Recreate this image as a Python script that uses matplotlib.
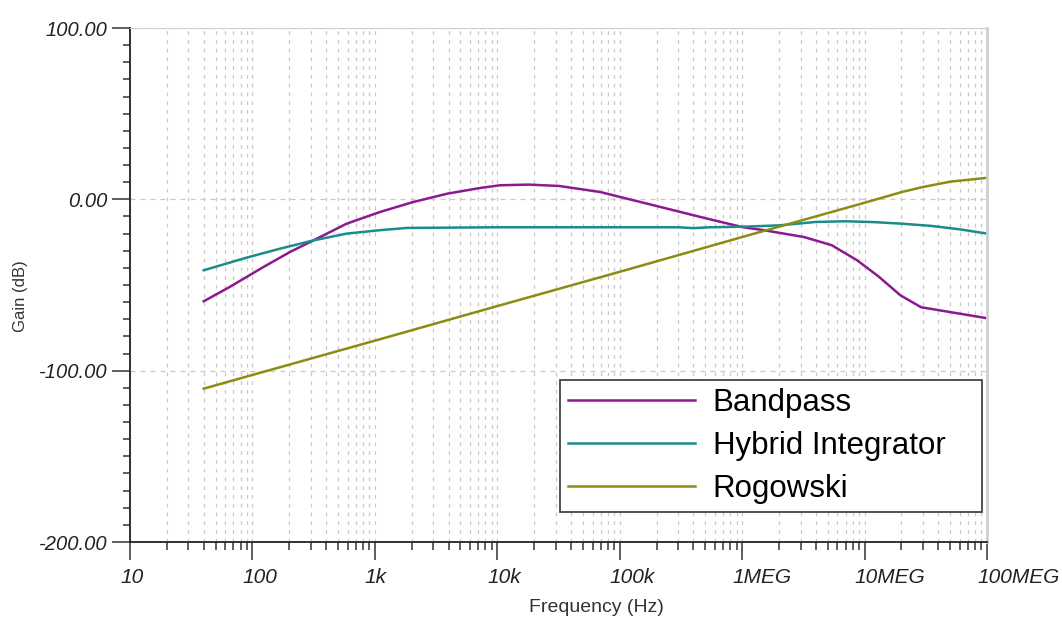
import numpy as np
import matplotlib
matplotlib.use("Agg")
import matplotlib.pyplot as plt
from matplotlib.ticker import FixedLocator, FixedFormatter, NullFormatter, MultipleLocator
from matplotlib.transforms import ScaledTranslation

plt.rcParams['font.family'] = ['Liberation Sans', 'DejaVu Sans']

# Frequencies (Hz) and gains (dB)
bp_freq = [40, 65, 123, 203, 335, 589, 1100, 2050, 3900, 7200, 10500, 18000,
           32000, 69000, 190000, 457000, 1000000, 1500000, 3200000, 5400000,
           8700000, 13000000, 19600000, 29000000, 50000000, 98000000]
bp_gain = [-59.5, -51.2, -39.5, -30.7, -23.0, -14.2, -7.4, -1.6, 3.3, 6.6, 8.2, 8.6,
           7.8, 4.3, -3.5, -10.3, -16.2, -18.0, -22.0, -26.8,
           -35.6, -45.0, -56.0, -63.0, -65.8, -69.3]

hy_freq = [40, 90, 168, 313, 589, 1100, 1830, 10000, 300000, 400000, 550000,
           1000000, 2000000, 4000000, 7000000, 12000000, 20000000, 35000000,
           60000000, 98000000]
hy_gain = [-41.4, -34.0, -28.8, -24.0, -20.0, -18.0, -16.7, -16.3, -16.3, -16.8, -16.3,
           -16.0, -15.2, -13.2, -12.8, -13.3, -14.2, -15.5,
           -17.5, -19.9]

rg_freq = [40, 100, 1000, 10000, 100000, 1000000, 10000000, 20000000,
           30000000, 50000000, 98000000]
rg_gain = [-110.5, -102.5, -82.5, -62.3, -42.3, -22.0, -2.0, 4.2,
           7.2, 10.3, 12.5]

series_names = ["Bandpass", "Hybrid Integrator", "Rogowski"]
series_colors = ["#8B1A90", "#1A8C8C", "#8C8C14"]

x_ticks = [10, 100, 1e3, 1e4, 1e5, 1e6, 1e7, 1e8]
x_labels = ["10", "100", "1k", "10k", "100k", "1MEG", "10MEG", "100MEG"]
y_ticks = [-200, -100, 0, 100]
y_labels = ["-200.00", "-100.00", "0.00", "100.00"]

fig = plt.figure(figsize=(10.62, 6.35), dpi=100)
ax = fig.add_axes([130/1062, 1-542/635, 857/1062, 514/635])

for fx, gy, name, col in zip([bp_freq, hy_freq, rg_freq], [bp_gain, hy_gain, rg_gain],
                             series_names, series_colors):
    ax.plot(fx, gy, color=col, lw=1.8, label=name)

ax.set_xscale('log')
ax.set_xlim(10, 1e8)
ax.set_ylim(-200, 100)

ax.xaxis.set_major_locator(FixedLocator(x_ticks))
ax.xaxis.set_major_formatter(FixedFormatter(x_labels))
minor_x = [m * d for d in x_ticks[:-1] for m in range(2, 10)]
ax.xaxis.set_minor_locator(FixedLocator(minor_x))
ax.xaxis.set_minor_formatter(NullFormatter())

ax.yaxis.set_major_locator(FixedLocator(y_ticks))
ax.yaxis.set_major_formatter(FixedFormatter(y_labels))
ax.yaxis.set_minor_locator(MultipleLocator(10))

ax.tick_params(axis='both', which='major', length=13, width=1.1, color='#333333')
ax.tick_params(axis='x', which='minor', length=6, width=1.1, color='#333333')
ax.tick_params(axis='y', which='minor', length=5, width=1.1, color='#333333')
ax.tick_params(axis='x', which='major', labelsize=15, pad=6)
ax.tick_params(axis='y', which='major', labelsize=14.5, pad=3)

shift = ScaledTranslation(-10/100, 0, fig.dpi_scale_trans)
for lbl in ax.get_xticklabels():
    lbl.set_fontstyle('italic')
    lbl.set_color('#222222')
    lbl.set_horizontalalignment('left')
    lbl.set_transform(lbl.get_transform() + shift)
for lbl in ax.get_yticklabels():
    lbl.set_fontstyle('italic')
    lbl.set_color('#222222')

ax.grid(True, which='both', axis='x', color='#c8c8c8', linestyle=(0, (3, 4)), lw=0.9)
ax.grid(True, which='major', axis='y', color='#c8c8c8', linestyle=(0, (4, 4)), lw=0.9)
ax.set_axisbelow(True)

ax.spines['left'].set_color('#222222')
ax.spines['bottom'].set_color('#222222')
ax.spines['left'].set_linewidth(1.3)
ax.spines['bottom'].set_linewidth(1.3)
ax.spines['top'].set_color('#cfcfcf')
ax.spines['right'].set_color('#cfcfcf')
ax.spines['right'].set_linewidth(2)

fig.text(596/1062, 1-607/635, "Frequency (Hz)", fontsize=14, color='#333333',
         ha='center', va='center')
fig.text(21/1062, 1-296/635, "Gain (dB)", fontsize=12, color='#333333',
         ha='center', va='center', rotation=90)

leg = ax.legend(loc='lower left', bbox_to_anchor=(430/857, 30/514, 422/857, 127/514),
                mode='expand', fontsize=22.5,
                frameon=True, fancybox=False, edgecolor='#444444', framealpha=1,
                handlelength=4.06, handletextpad=0.58, borderpad=0.25,
                labelspacing=0.42, borderaxespad=0)
leg.get_frame().set_linewidth(1.3)

fig.savefig("out.png", dpi=100)
